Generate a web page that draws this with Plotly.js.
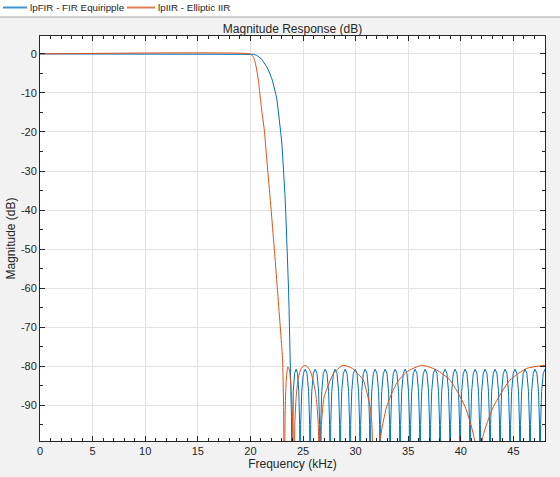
<!DOCTYPE html>
<html>
<head>
<meta charset="utf-8">
<script src="https://cdn.plot.ly/plotly-3.0.1.min.js"></script>
<style>html,body{margin:0;padding:0;background:#f2f2f2;}#chart{width:560px;height:477px;}</style>
</head>
<body>
<div id="chart"></div>
<script>
// ---- FIR (equiripple) ----
const firPassF = [0, 20.0, 20.3, 20.6, 20.9, 21.1, 21.23, 21.4, 21.55, 21.7, 21.86, 22.0, 22.1, 22.2, 22.34, 22.45, 22.55, 22.65, 22.77, 22.88, 22.96, 23.03, 23.12, 23.2, 23.28, 23.35, 23.43, 23.5, 23.57, 23.62, 23.67, 23.72, 23.77, 23.81, 23.86, 23.9];
const firPassM = [0, 0, -0.1, -0.35, -0.9, -1.4, -2.0, -2.6, -3.3, -4.1, -5.0, -6.1, -6.9, -7.9, -9.2, -10.7, -12.3, -14.4, -16.9, -19.5, -22, -24.6, -28, -32, -36, -40, -45, -50, -55, -60, -65, -70, -75, -80, -86, -93];
const firStopF = [
23.95,23.99,24.07,24.2,24.34,24.48,24.6,24.68,
24.73,24.78,24.88,25.03,25.205,25.38,25.53,25.63,
25.68,25.73,25.83,25.98,26.155,26.33,26.48,26.58,
26.63,26.68,26.78,26.93,27.105,27.28,27.43,27.53,
27.58,27.63,27.73,27.88,28.055,28.23,28.38,28.48,
28.53,28.58,28.68,28.83,29.005,29.18,29.33,29.43,
29.48,29.53,29.63,29.78,29.955,30.13,30.28,30.38,
30.43,30.48,30.58,30.73,30.905,31.08,31.23,31.33,
31.38,31.43,31.53,31.68,31.855,32.03,32.18,32.28,
32.33,32.38,32.48,32.63,32.805,32.98,33.13,33.23,
33.28,33.33,33.43,33.58,33.755,33.93,34.08,34.18,
34.23,34.28,34.38,34.53,34.705,34.88,35.03,35.13,
35.18,35.23,35.33,35.48,35.655,35.83,35.98,36.08,
36.13,36.18,36.28,36.43,36.605,36.78,36.93,37.03,
37.08,37.13,37.23,37.38,37.555,37.73,37.88,37.98,
38.03,38.08,38.18,38.33,38.505,38.68,38.83,38.93,
38.98,39.03,39.13,39.28,39.455,39.63,39.78,39.88,
39.93,39.98,40.08,40.23,40.405,40.58,40.73,40.83,
40.88,40.93,41.03,41.18,41.355,41.53,41.68,41.78,
41.83,41.88,41.98,42.13,42.305,42.48,42.63,42.73,
42.78,42.83,42.93,43.08,43.255,43.43,43.58,43.68,
43.73,43.78,43.88,44.03,44.205,44.38,44.53,44.63,
44.68,44.73,44.83,44.98,45.155,45.33,45.48,45.58,
45.63,45.68,45.78,45.93,46.105,46.28,46.43,46.53,
46.58,46.63,46.73,46.88,47.055,47.23,47.38,47.48,
47.53,47.58,47.68,47.83,48.0];
const firStopM = [
-130,-95,-86.5,-81.9,-80.8,-81.9,-86.5,-95,
-130,-95,-86.5,-81.9,-80.8,-81.9,-86.5,-95,
-130,-95,-86.5,-81.9,-80.8,-81.9,-86.5,-95,
-130,-95,-86.5,-81.9,-80.8,-81.9,-86.5,-95,
-130,-95,-86.5,-81.9,-80.8,-81.9,-86.5,-95,
-130,-95,-86.5,-81.9,-80.8,-81.9,-86.5,-95,
-130,-95,-86.5,-81.9,-80.8,-81.9,-86.5,-95,
-130,-95,-86.5,-81.9,-80.8,-81.9,-86.5,-95,
-130,-95,-86.5,-81.9,-80.8,-81.9,-86.5,-95,
-130,-95,-86.5,-81.9,-80.8,-81.9,-86.5,-95,
-130,-95,-86.5,-81.9,-80.8,-81.9,-86.5,-95,
-130,-95,-86.5,-81.9,-80.8,-81.9,-86.5,-95,
-130,-95,-86.5,-81.9,-80.8,-81.9,-86.5,-95,
-130,-95,-86.5,-81.9,-80.8,-81.9,-86.5,-95,
-130,-95,-86.5,-81.9,-80.8,-81.9,-86.5,-95,
-130,-95,-86.5,-81.9,-80.8,-81.9,-86.5,-95,
-130,-95,-86.5,-81.9,-80.8,-81.9,-86.5,-95,
-130,-95,-86.5,-81.9,-80.8,-81.9,-86.5,-95,
-130,-95,-86.5,-81.9,-80.8,-81.9,-86.5,-95,
-130,-95,-86.5,-81.9,-80.8,-81.9,-86.5,-95,
-130,-95,-86.5,-81.9,-80.8,-81.9,-86.5,-95,
-130,-95,-86.5,-81.9,-80.8,-81.9,-86.5,-95,
-130,-95,-86.5,-81.9,-80.8,-81.9,-86.5,-95,
-130,-95,-86.5,-81.9,-80.8,-81.9,-86.5,-95,
-130,-95,-86.5,-81.9,-80.8,-81.9,-86.5,-95,
-130,-95,-86.5,-81.9,-80.8];

// ---- IIR (elliptic) ----
const iirF = [0, 20.0, 20.15, 20.3, 20.44, 20.6, 20.75, 20.9, 21.07, 21.32, 21.48, 21.7, 22.0, 22.3, 22.6, 22.85, 23.05, 23.15, 23.22,
  23.3, 23.4, 23.55, 23.7, 23.85, 24.0, 24.15,
  24.22, 24.35, 24.55, 24.85, 25.2, 25.6, 25.95, 26.25, 26.45, 26.6,
  26.75, 27.0, 27.25, 27.9, 28.8, 29.7, 30.3, 30.73, 31.37, 31.55, 31.8,
  32.0, 32.3, 32.95, 33.9, 34.85, 36.3, 37.7, 38.97, 40.4, 41.3, 41.6,
  41.85, 42.1, 43.1, 44.67, 46.26, 48.0];
const iirM = [0, 0, -0.3, -0.9, -2.0, -4.1, -6.7, -10.2, -14.4, -19.5, -24.6, -31.5, -41, -51, -61.5, -70.5, -78, -90, -130,
  -92, -84, -80.2, -81, -85, -93, -130,
  -95, -88, -83, -80.5, -79.8, -80.8, -83.5, -88, -95, -130,
  -95, -88, -86, -81.9, -79.8, -80.6, -82.2, -83.6, -90.4, -95, -130,
  -105, -99, -90.4, -84.4, -81.5, -79.8, -81.0, -83.6, -90.4, -99, -130,
  -105, -98, -90.4, -83.6, -80.6, -79.8];

const seriesNames = ['lpFIR - FIR Equiripple', 'lpIIR - Elliptic IIR'];
const seriesColors = ['#0072BD', '#D95319'];
const xTickVals = [0, 5, 10, 15, 20, 25, 30, 35, 40, 45];
const yTickVals = [0, -10, -20, -30, -40, -50, -60, -70, -80, -90];

const firF = firPassF.concat(firStopF);
const firM = firPassM.concat(firStopM);

const FONT = 'Liberation Sans, Arial, sans-serif';

const traces = [
  {x: firF, y: firM, type: 'scatter', mode: 'lines', name: seriesNames[0],
   line: {color: seriesColors[0], width: 1}},
  {x: iirF, y: iirM, type: 'scatter', mode: 'lines', name: seriesNames[1],
   line: {color: seriesColors[1], width: 1, shape: 'spline', smoothing: 0.6}}
];

const axisCommon = {
  showline: true, linecolor: '#262626', linewidth: 1, mirror: 'ticks',
  ticks: 'inside', ticklen: 5, tickcolor: '#262626', automargin: false,
  showgrid: true, gridcolor: '#e3e3e3', gridwidth: 1, zeroline: false,
  tickfont: {family: FONT, size: 11, color: '#262626'}
};

// plot area in pixels: left 40, right 545, top 36, bottom 441
const PL = 40, PW = 505, PB = 441, PH = 405;
const px = v => (v - PL) / PW;
const py = v => (PB - v) / PH;

const layout = {
  width: 560, height: 477,
  paper_bgcolor: '#f2f2f2', plot_bgcolor: '#ffffff',
  margin: {l: 40, r: 15, t: 36, b: 36},
  showlegend: false,
  title: {text: 'Magnitude Response (dB)', x: 0.5, xref: 'paper', y: 1, yref: 'paper', yanchor: 'bottom',
    pad: {b: 3}, automargin: false, font: {family: FONT, size: 12, color: '#262626'}},
  xaxis: Object.assign({}, axisCommon, {
    range: [0, 48], tickvals: xTickVals, ticktext: xTickVals.map(String),
    minor: {ticks: 'inside', dtick: 1, ticklen: 3, tickcolor: '#262626', showgrid: false},
    title: {text: 'Frequency (kHz)', standoff: 3, font: {family: FONT, size: 12, color: '#262626'}}
  }),
  yaxis: Object.assign({}, axisCommon, {
    range: [-99.2, 4.6], tickvals: yTickVals, ticktext: yTickVals.map(String),
    minor: {ticks: 'inside', dtick: 5, tick0: 0, ticklen: 3, tickcolor: '#262626', showgrid: false},
    title: {text: 'Magnitude (dB)', standoff: 2, font: {family: FONT, size: 12, color: '#262626'}}
  }),
  shapes: [
    {type: 'rect', xref: 'paper', yref: 'paper', x0: px(0), x1: px(560), y0: py(17), y1: py(0), fillcolor: '#ffffff', line: {width: 0}, layer: 'below'},
    {type: 'rect', xref: 'paper', yref: 'paper', x0: px(0), x1: px(560), y0: py(17.5), y1: py(16.5), fillcolor: '#a6a6a6', line: {width: 0}},
    {type: 'rect', xref: 'paper', yref: 'paper', x0: px(3), x1: px(27), y0: py(8.5), y1: py(6.5), fillcolor: 'rgba(0,114,189,0.75)', line: {width: 0}},
    {type: 'rect', xref: 'paper', yref: 'paper', x0: px(127), x1: px(155), y0: py(8.5), y1: py(6.5), fillcolor: 'rgba(217,83,25,0.75)', line: {width: 0}}
  ],
  annotations: [
    {xref: 'paper', yref: 'paper', x: px(27.5), y: py(7.5), xanchor: 'left', yanchor: 'middle', showarrow: false,
     text: seriesNames[0], font: {family: FONT, size: 9.8, color: '#262626'}},
    {xref: 'paper', yref: 'paper', x: px(155.5), y: py(7.5), xanchor: 'left', yanchor: 'middle', showarrow: false,
     text: seriesNames[1], font: {family: FONT, size: 9.8, color: '#262626'}}
  ]
};

Plotly.newPlot('chart', traces, layout, {displayModeBar: false, staticPlot: true});
</script>
</body>
</html>
